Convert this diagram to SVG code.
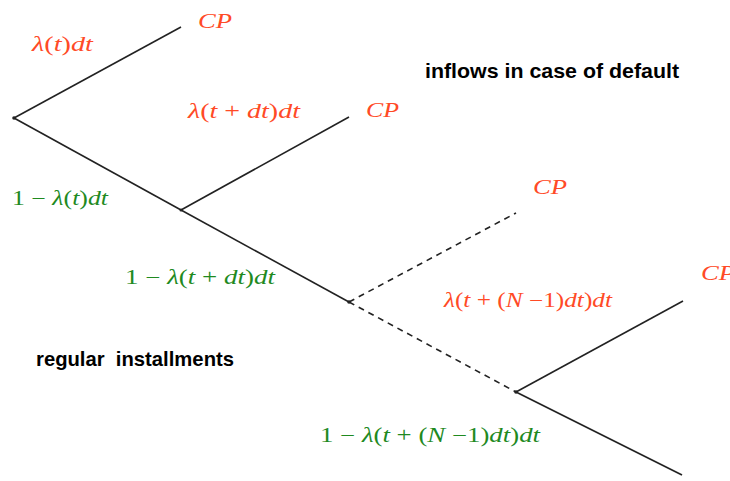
<svg xmlns="http://www.w3.org/2000/svg" width="730" height="481" viewBox="0 0 730 481">
<style>
.e{stroke:#222;stroke-width:1.6;fill:none}
.d{stroke-dasharray:6,5}
.m{font-family:"Liberation Serif",serif;font-style:italic;font-size:20px}
.c{font-size:21px}
.u{font-style:normal}
.o{fill:#ff4a26}
.g{fill:#1f8a1f}
.b{font-family:"Liberation Sans",Arial,sans-serif;font-weight:bold;font-size:20.5px;fill:#000}
</style>
<rect width="730" height="481" fill="#fff"/>
<g id="connectors">
<line class="e" x1="14" y1="118" x2="181" y2="27"/>
<line class="e" x1="14" y1="118" x2="181" y2="210"/>
<line class="e" x1="181" y1="210" x2="349" y2="117"/>
<line class="e" x1="181" y1="210" x2="349" y2="302"/>
<line class="e d" x1="349" y1="302" x2="516" y2="213"/>
<line class="e d" x1="349" y1="302" x2="516" y2="392"/>
<line class="e" x1="516" y1="392" x2="683" y2="301"/>
<line class="e" x1="516" y1="392" x2="682" y2="475"/>
</g>
<g id="n0"><circle cx="14" cy="118" r="1.8" fill="#222"/></g>
<g id="n1"><circle cx="181" cy="210" r="1.5" fill="#222"/></g>
<g id="n2"><circle cx="349" cy="302" r="1.8" fill="#222"/></g>
<g id="n3"><circle cx="516" cy="392" r="1.8" fill="#222"/></g>
<g id="cp1"><text class="m c o" x="198" y="28" textLength="34" lengthAdjust="spacingAndGlyphs">CP</text></g>
<g id="cp2"><text class="m c o" x="366" y="117" textLength="33" lengthAdjust="spacingAndGlyphs">CP</text></g>
<g id="cp3"><text class="m c o" x="533" y="194" textLength="34" lengthAdjust="spacingAndGlyphs">CP</text></g>
<g id="cp4"><text class="m c o" x="701" y="280" textLength="34" lengthAdjust="spacingAndGlyphs">CP</text></g>
<g id="l1"><text class="m o" x="32" y="51" textLength="61" lengthAdjust="spacingAndGlyphs">λ<tspan class="u">(</tspan>t<tspan class="u">)</tspan>dt</text></g>
<g id="l2"><text class="m o" x="188" y="118" textLength="112" lengthAdjust="spacingAndGlyphs">λ<tspan class="u">(</tspan>t <tspan class="u">+</tspan> dt<tspan class="u">)</tspan>dt</text></g>
<g id="l3"><text class="m o" x="444" y="307" textLength="168" lengthAdjust="spacingAndGlyphs">λ<tspan class="u">(</tspan>t<tspan class="u"> + (</tspan>N<tspan class="u"> −1)</tspan>dt<tspan class="u">)</tspan>dt</text></g>
<g id="g1"><text class="m g" x="12" y="205" textLength="96" lengthAdjust="spacingAndGlyphs"><tspan class="u">1 − </tspan>λ<tspan class="u">(</tspan>t<tspan class="u">)</tspan>dt</text></g>
<g id="g2"><text class="m g" x="125" y="284" textLength="150" lengthAdjust="spacingAndGlyphs"><tspan class="u">1 − </tspan>λ<tspan class="u">(</tspan>t<tspan class="u"> + </tspan>dt<tspan class="u">)</tspan>dt</text></g>
<g id="g3"><text class="m g" x="320" y="442" textLength="220" lengthAdjust="spacingAndGlyphs"><tspan class="u">1 − </tspan>λ<tspan class="u">(</tspan>t<tspan class="u"> + (</tspan>N<tspan class="u"> −1)</tspan>dt<tspan class="u">)</tspan>dt</text></g>
<g id="t1"><text class="b" x="425" y="78" textLength="254" lengthAdjust="spacingAndGlyphs">inflows in case of default</text></g>
<g id="t2"><text class="b" x="36" y="366" xml:space="preserve" textLength="198" lengthAdjust="spacingAndGlyphs">regular  installments</text></g>
</svg>
